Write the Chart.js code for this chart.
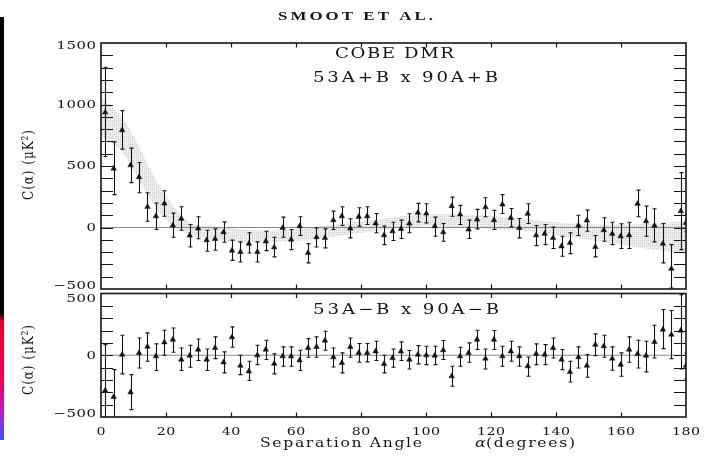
<!DOCTYPE html>
<html>
<head>
<meta charset="utf-8">
<script src="https://cdn.jsdelivr.net/npm/chart.js@4.4.1/dist/chart.umd.min.js"></script>
<style>
  html, body { margin: 0; padding: 0; background: #fff; width: 706px; height: 458px; overflow: hidden; }
  .layer { position: absolute; left: 0; top: 0; width: 706px; height: 458px; }
  #edge { position: absolute; left: 0; top: 17px; width: 4px; height: 423px;
    background: linear-gradient(to bottom, #000 0%, #000 70%, #e8002c 72%, #f00050 86%, #c018c8 93%, #3c50ff 100%); }
</style>
</head>
<body>
<div id="edge"></div>
<canvas id="cTop" class="layer" width="706" height="458"></canvas>
<canvas id="cBot" class="layer" width="706" height="458"></canvas>
<script>
// Separation angles of the bin centres (degrees)
const angles = [1.3, 3.9, 6.5, 9.1, 11.7, 14.3, 16.9, 19.5, 22.1, 24.7, 27.3, 29.9, 32.5, 35.1,
  37.7, 40.3, 42.9, 45.5, 48.1, 50.7, 53.3, 55.9, 58.5, 61.1, 63.7, 66.3, 68.9, 71.5, 74.1,
  76.7, 79.3, 81.9, 84.5, 87.1, 89.7, 92.3, 94.9, 97.5, 100.1, 102.7, 105.3, 107.9, 110.5,
  113.1, 115.7, 118.3, 120.9, 123.5, 126.1, 128.7, 131.3, 133.9, 136.5, 139.1, 141.7, 144.3,
  146.9, 149.5, 152.1, 154.7, 157.3, 159.9, 162.5, 165.1, 167.7, 170.3, 172.9, 175.5, 178.4, 180.0];

// 53A+B x 90A+B cross-correlation (uK^2) with error-bar ends
const sumVal = [936, 479, 792, 506, 410, 168, 92, 195, 17, 71, -65, -8, -103, -92, -38, -188, -199,
  -131, -199, -112, -161, -3, -98, 11, -207, -79, -84, 60, 92, -8, 87, 92, 33, -63, -30, -11, 33,
  120, 114, 11, -38, 174, 106, -16, 65, 166, 60, 188, 79, -3, 112, -63, -51, -84, -153, -125, 16,
  57, -158, -22, -51, -71, -63, 193, 51, 16, -131, -335, 133, 38];
const sumHi = [1303, 696, 950, 645, 528, 283, 199, 299, 117, 169, 24, 87, -22, -11, 46, -103, -117,
  -43, -117, -30, -79, 84, -16, 87, -131, -3, -11, 133, 169, 71, 161, 169, 114, 11, 43, 60, 112,
  196, 193, 84, 33, 247, 180, 60, 147, 242, 139, 267, 155, 73, 193, 16, 24, 3, -71, -43, 100,
  141, -65, 79, 43, 30, 43, 304, 174, 153, 33, -139, 446, 100];
const sumLo = [577, 267, 637, 365, 282, 51, -16, 92, -79, -22, -158, -92, -193, -185, -120, -267,
  -280, -207, -280, -188, -239, -79, -180, -65, -288, -158, -166, -16, 16, -84, 11, 24, -43,
  -139, -106, -90, -43, 46, 38, -71, -112, 92, 24, -90, -11, 87, -16, 114, 5, -84, 33, -147,
  -139, -171, -234, -212, -65, -30, -239, -112, -139, -171, -171, 87, -71, -117, -288, -492, -180, -30];

// 53A-B x 90A-B difference-map correlation (uK^2) with error-bar ends
const difVal = [-286, -338, 5, -300, 19, 70, -8, 105, 127, -35, -3, 46, -35, 59, -57, 146, -84, -130,
  0, 46, -68, -8, -8, -41, 59, 68, 119, -16, -62, 68, 19, 19, 32, -70, -22, 32, -35, 5, 0, -3, 41,
  -170, -8, 19, 127, -27, 127, -8, 32, -8, -89, 11, 5, 59, -35, -135, -16, -84, 86, 73, -27, -76,
  46, 11, -3, 108, 208, 167, 200, -84];
const difHi = [86, -116, 162, -157, 140, 181, 92, 203, 221, 59, 81, 132, 51, 149, 27, 230, 0, -49,
  81, 122, 11, 68, 68, 41, 135, 149, 194, 59, 19, 140, 95, 95, 113, 0, 51, 108, 38, 78, 73, 73,
  119, -89, 65, 100, 203, 51, 200, 73, 113, 68, -14, 92, 86, 140, 46, -49, 68, 5, 173, 162, 68,
  19, 149, 122, 113, 243, 370, 362, 491, 20];
const difLo = [-660, -560, -151, -440, -103, -49, -124, 0, 24, -124, -97, -43, -124, -27, -143, 65,
  -157, -205, -76, -35, -151, -89, -89, -124, -16, -16, 41, -95, -143, -16, -57, -54, -43, -143,
  -97, -43, -111, -70, -76, -76, -35, -251, -89, -57, 46, -111, 46, -89, -49, -89, -170, -76,
  -76, -22, -116, -216, -103, -178, -3, -16, -122, -170, -57, -103, -135, -22, 54, -27, -111, -190];

// Model band (upper / lower envelope) for the sum-map correlation
const bandAngles = [0, 3, 6, 9, 12, 15, 18, 21, 24, 27, 30, 35, 40, 45, 50, 55, 60, 65, 70, 75, 80,
  85, 90, 95, 100, 105, 110, 115, 120, 125, 130, 135, 140, 145, 150, 155, 160, 165, 170, 175, 180];
const bandUpper = [1060, 985, 905, 790, 640, 480, 340, 220, 120, 50, 15, 10, -5, -20, -25, -22, -12,
  0, 18, 35, 52, 63, 85, 97, 105, 108, 106, 100, 94, 82, 70, 55, 43, 33, 27, 24, 24, 27, 33, 42, 50];
const bandLower = [750, 690, 630, 510, 370, 240, 120, 40, -15, -55, -80, -100, -115, -120, -120,
  -115, -108, -95, -78, -60, -42, -30, -8, 3, 10, 8, 0, -5, -10, -18, -27, -42, -60, -80, -100,
  -120, -140, -160, -178, -195, -207];

// Axis ticks
const xTicks = [0, 20, 40, 60, 80, 100, 120, 140, 160, 180];
const yTicksTop = [1500, 1000, 500, 0, -500];
const yTicksBot = [500, 0, -500];

const SERIF = '"DejaVu Serif", serif';
const INK = '#141414';

function fmt(v) { return v < 0 ? '\u2212' + Math.abs(v) : String(v); }

// Draw text with wide (horizontally stretched) glyphs.
// o: x, y, align, sx (glyph stretch), width (total span) or pitch (digit advance)
function label(ctx, text, o) {
  const sx = o.sx || 1;
  ctx.letterSpacing = '0px';
  const w0 = ctx.measureText(text).width * sx;
  const n = [...text].length;
  let ls = 0;
  if (o.width) ls = (o.width - w0) / (n - 1);
  else if (o.pitch) ls = o.pitch - ctx.measureText('0').width * sx;
  const total = w0 + ls * (n - 1);
  const left = o.align === 'center' ? o.x - total / 2 : o.align === 'right' ? o.x - total : o.x;
  ctx.save();
  ctx.translate(left, o.y);
  ctx.scale(sx, 1);
  ctx.letterSpacing = (ls / sx) + 'px';
  ctx.textAlign = 'left';
  ctx.fillText(text, 0, 0);
  ctx.restore();
  ctx.letterSpacing = '0px';
}

function stipple() {
  const c = document.createElement('canvas');
  c.width = 4; c.height = 4;
  const g = c.getContext('2d');
  g.fillStyle = '#eeeeee'; g.fillRect(0, 0, 4, 4);
  g.fillStyle = '#c8c8c8';
  g.fillRect(0, 0, 1, 1); g.fillRect(2, 2, 1, 1);
  g.fillStyle = '#dcdcdc';
  g.fillRect(2, 0, 1, 1); g.fillRect(0, 2, 1, 1);
  return g.createPattern(c, 'repeat');
}

// Frame, inward ticks, zero line, error bars and labels for one panel
const panelPlugin = {
  id: 'panel',
  beforeDatasetDraw(chart, args, opts) {
    if (args.index !== 0) return;
    const { ctx, chartArea: a, scales: { x, y } } = chart;
    ctx.save();
    ctx.beginPath(); ctx.rect(a.left, a.top, a.right - a.left, a.bottom - a.top); ctx.clip();
    ctx.strokeStyle = '#8a8a8a'; ctx.lineWidth = 1.2;
    ctx.beginPath();
    ctx.moveTo(a.left, y.getPixelForValue(0)); ctx.lineTo(a.right, y.getPixelForValue(0));
    ctx.stroke();
    ctx.strokeStyle = INK; ctx.lineWidth = 1.1;
    ctx.beginPath();
    opts.hi.forEach((hi, i) => {
      const px = Math.round(x.getPixelForValue(opts.ang[i])) + 0.5;
      const yh = y.getPixelForValue(hi), yl = y.getPixelForValue(opts.lo[i]);
      ctx.moveTo(px, yh); ctx.lineTo(px, yl);
      ctx.moveTo(px - 2, yh); ctx.lineTo(px + 2, yh);
      ctx.moveTo(px - 2, yl); ctx.lineTo(px + 2, yl);
    });
    ctx.stroke();
    ctx.restore();
  },
  afterDraw(chart, args, opts) {
    const { ctx, chartArea: a, scales: { x, y } } = chart;
    ctx.save();
    ctx.strokeStyle = INK; ctx.lineWidth = 1.6;
    ctx.strokeRect(a.left, a.top, a.right - a.left, a.bottom - a.top);
    ctx.lineWidth = 1.2;
    ctx.beginPath();
    for (let v = y.min + 100; v < y.max; v += 100) {
      const py = Math.round(y.getPixelForValue(v)) + 0.5;
      ctx.moveTo(a.left, py); ctx.lineTo(a.left + 12, py);
      ctx.moveTo(a.right, py); ctx.lineTo(a.right - 12, py);
    }
    xTicks.slice(1, -1).forEach(t => {
      const px = Math.round(x.getPixelForValue(t)) + 0.5;
      ctx.moveTo(px, a.top); ctx.lineTo(px, a.top + 4.5);
      ctx.moveTo(px, a.bottom); ctx.lineTo(px, a.bottom - 4.5);
    });
    ctx.stroke();

    ctx.fillStyle = INK;
    ctx.textBaseline = 'middle';
    ctx.font = '11px ' + SERIF;
    opts.yTicks.forEach(t => {
      const py = Math.min(Math.max(y.getPixelForValue(t), a.top + opts.labelInset), a.bottom - 3);
      label(ctx, fmt(t), { x: 96, y: py + 0.5, align: 'right', sx: 1.35, pitch: 10 });
    });

    // rotated axis title, glyphs stretched across their height
    ctx.save();
    ctx.translate(29, opts.titleY);
    ctx.rotate(-Math.PI / 2);
    ctx.scale(1, 1.3);
    ctx.font = '12px ' + SERIF;
    label(ctx, 'C(\u03b1) (\u03bcK\u00b2)', { x: 0, y: 0, align: 'center', width: 70 });
    ctx.restore();

    ctx.font = '14.5px ' + SERIF;
    opts.notes.forEach(n => label(ctx, n.text, { x: n.left, y: n.y, sx: 1.25, width: n.width }));

    if (opts.xAxis) {
      ctx.font = '10.5px ' + SERIF;
      xTicks.forEach(t => label(ctx, String(t), { x: x.getPixelForValue(t), y: 432, align: 'center', sx: 1.35, pitch: 9.6 }));
      ctx.font = '12px ' + SERIF;
      label(ctx, 'Separation Angle', { x: 260, y: 444, sx: 1.3, width: 162 });
      ctx.font = 'italic 12.5px ' + SERIF;
      label(ctx, '\u03b1', { x: 475, y: 444, sx: 1.3 });
      ctx.font = '12px ' + SERIF;
      label(ctx, '(degrees)', { x: 486, y: 444, sx: 1.3, width: 89 });
    }
    if (opts.heading) {
      ctx.font = 'bold 13.5px "Liberation Serif", serif';
      label(ctx, 'SMOOT ET AL.', { x: 278, y: 17, sx: 1.25, width: 155 });
    }
    ctx.restore();
  }
};

function pts(vals) { return angles.map((a, i) => ({ x: a, y: vals[i] })); }

function panel(id, pad, ymin, ymax, datasets, opts) {
  return new Chart(document.getElementById(id), {
    type: 'line',
    data: { datasets },
    options: {
      responsive: false, animation: false, devicePixelRatio: 1,
      layout: { padding: pad },
      scales: {
        x: { type: 'linear', min: 0, max: 180, display: false },
        y: { type: 'linear', min: ymin, max: ymax, display: false }
      },
      plugins: { legend: { display: false }, tooltip: { enabled: false }, panel: opts }
    },
    plugins: [panelPlugin]
  });
}

const markStyle = {
  showLine: false, pointStyle: 'triangle', pointRadius: 3.2,
  pointBackgroundColor: INK, pointBorderColor: INK, pointBorderWidth: 0.5, clip: 0
};

panel('cTop', { left: 101, right: 20, top: 43, bottom: 458 - 289 }, -500, 1500, [
  Object.assign({ data: pts(sumVal) }, markStyle),
  { data: bandAngles.map((a, i) => ({ x: a, y: bandUpper[i] })), pointRadius: 0, borderWidth: 0,
    tension: 0.4, fill: '+1', backgroundColor: stipple(), clip: 0 },
  { data: bandAngles.map((a, i) => ({ x: a, y: bandLower[i] })), pointRadius: 0, borderWidth: 0,
    tension: 0.4, fill: false, clip: 0 }
], {
  ang: angles, hi: sumHi, lo: sumLo, yTicks: yTicksTop, titleY: 165, heading: true, xAxis: false,
  labelInset: 3,
  notes: [
    { text: 'COBE DMR', left: 335, y: 54, width: 119 },
    { text: '53A+B x 90A+B', left: 313, y: 78, width: 185 }
  ]
});

panel('cBot', { left: 101, right: 20, top: 293.5, bottom: 458 - 417 }, -500, 500, [
  Object.assign({ data: pts(difVal) }, markStyle)
], {
  ang: angles, hi: difHi, lo: difLo, yTicks: yTicksBot, titleY: 360, heading: false, xAxis: true,
  labelInset: 5,
  notes: [
    { text: '53A\u2212B x 90A\u2212B', left: 313, y: 310, width: 186 }
  ]
});
</script>
</body>
</html>
